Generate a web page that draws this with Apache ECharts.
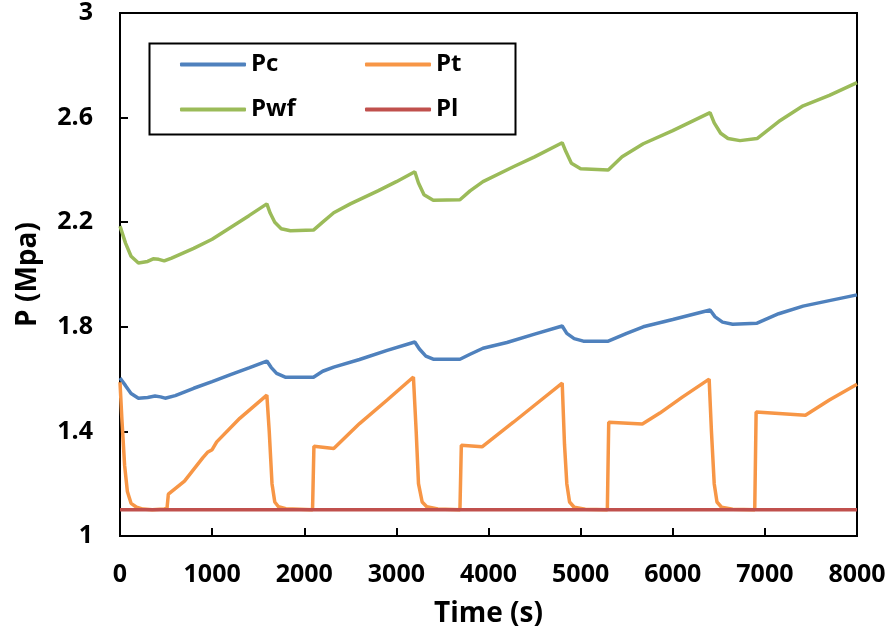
<!DOCTYPE html>
<html lang="en">
  <head>
    <meta charset="UTF-8" />
    <title>P vs Time</title>
    <script src="https://cdn.jsdelivr.net/npm/echarts@6.0.0/dist/echarts.min.js"></script>
    <style>
      html,
      body {
        margin: 0;
        padding: 0;
        background: #fff;
      }

      #main {
        width: 893px;
        height: 639px;
      }
    </style>
  </head>

  <body>
    <div id="main"></div>
    <script>
      // values (time in s, pressure in Mpa)
      var pcTime = [0, 60, 120, 200, 300, 380, 440, 490, 600, 800, 1000, 1200, 1400, 1594, 1640, 1700, 1800, 2100, 2200, 2320, 2600, 2900, 3200, 3250, 3320, 3400, 3690, 3800, 3940, 4200, 4500, 4800, 4850, 4930, 5030, 5300, 5500, 5680, 6000, 6405, 6460, 6540, 6650, 6915, 7150, 7415, 7700, 8000];
      var pcVal = [1.604, 1.575, 1.545, 1.527, 1.53, 1.535, 1.532, 1.527, 1.537, 1.565, 1.59, 1.617, 1.643, 1.669, 1.645, 1.622, 1.607, 1.607, 1.63, 1.646, 1.675, 1.71, 1.742, 1.715, 1.688, 1.676, 1.676, 1.695, 1.718, 1.74, 1.772, 1.803, 1.775, 1.755, 1.745, 1.745, 1.775, 1.8, 1.828, 1.864, 1.838, 1.818, 1.81, 1.814, 1.85, 1.879, 1.9, 1.922];

      var ptTime = [0, 20, 50, 80, 120, 180, 250, 350, 480, 510, 525, 700, 900, 950, 1000, 1050, 1300, 1594, 1620, 1650, 1680, 1720, 1800, 2090, 2105, 2320, 2600, 2900, 3185, 3215, 3240, 3280, 3330, 3450, 3690, 3705, 3930, 4270, 4500, 4800, 4825, 4850, 4880, 4930, 5050, 5290, 5305, 5670, 5860, 6100, 6395, 6420, 6450, 6480, 6530, 6650, 6890, 6905, 7440, 7700, 8000];
      var ptVal = [1.588, 1.45, 1.27, 1.17, 1.125, 1.11, 1.103, 1.1, 1.103, 1.105, 1.16, 1.21, 1.3, 1.32, 1.33, 1.36, 1.45, 1.539, 1.4, 1.2, 1.13, 1.112, 1.104, 1.1, 1.343, 1.335, 1.43, 1.52, 1.608, 1.4, 1.2, 1.13, 1.112, 1.103, 1.1, 1.347, 1.341, 1.435, 1.5, 1.585, 1.35, 1.2, 1.13, 1.11, 1.102, 1.1, 1.435, 1.428, 1.47, 1.53, 1.6, 1.4, 1.2, 1.13, 1.11, 1.102, 1.1, 1.474, 1.462, 1.52, 1.58];

      var pwfTime = [0, 60, 120, 200, 300, 360, 420, 480, 560, 800, 1000, 1200, 1400, 1594, 1630, 1680, 1750, 1850, 2100, 2200, 2320, 2500, 2800, 3000, 3200, 3240, 3300, 3400, 3690, 3800, 3940, 4270, 4500, 4800, 4840, 4900, 5000, 5300, 5450, 5680, 6000, 6405, 6450, 6520, 6600, 6730, 6915, 7150, 7415, 7700, 8000];
      var pwfVal = [2.185, 2.12, 2.07, 2.044, 2.05, 2.06, 2.058, 2.052, 2.063, 2.1, 2.135, 2.18, 2.225, 2.27, 2.235, 2.2, 2.175, 2.167, 2.17, 2.2, 2.236, 2.27, 2.32, 2.355, 2.393, 2.35, 2.305, 2.284, 2.286, 2.32, 2.355, 2.412, 2.45, 2.504, 2.47, 2.425, 2.404, 2.4, 2.45, 2.5, 2.55, 2.619, 2.58, 2.54, 2.52, 2.512, 2.52, 2.585, 2.645, 2.685, 2.734];

      var plTime = [0, 8000];
      var plVal = [1.1, 1.1];

      var FONT = "Open Sans";

      function pairs(t, v) {
        return t.map((x, i) => [x, v[i]]);
      }

      function line(name, color, t, v) {
        return {
          name: name,
          type: "line",
          symbol: "none",
          data: pairs(t, v),
          lineStyle: { color: color, width: 3.5 },
          itemStyle: { color: color }
        };
      }

      var legendBase = {
        orient: "vertical",
        padding: 0,
        icon: "roundRect",
        itemWidth: 66,
        itemHeight: 4,
        itemGap: 12,
        top: 48,
        textStyle: {
          fontFamily: FONT,
          fontWeight: "bold",
          fontSize: 24,
          lineHeight: 33,
          color: "#000"
        }
      };

      var chart = echarts.init(document.getElementById("main"));
      chart.setOption({
        animation: false,
        textStyle: { fontFamily: FONT },
        grid: {
          left: 120,
          top: 13,
          right: 36,
          bottom: 103,
          show: true,
          borderColor: "#000",
          borderWidth: 2,
          outerBoundsMode: "none"
        },
        legend: [
          Object.assign({}, legendBase, { left: 180, data: ["Pc", "Pwf"] }),
          Object.assign({}, legendBase, { left: 365, data: ["Pt", "Pl"] })
        ],
        graphic: [
          {
            type: "rect",
            left: 147,
            top: 41,
            shape: { width: 366, height: 91 },
            style: { fill: "none", stroke: "#000", lineWidth: 2 },
            z: 10
          }
        ],
        xAxis: {
          type: "value",
          min: 0,
          max: 8000,
          interval: 1000,
          name: "Time (s)",
          nameLocation: "middle",
          nameGap: 64,
          nameTextStyle: {
            fontFamily: FONT,
            fontWeight: "bold",
            fontSize: 28,
            color: "#000"
          },
          axisLine: { lineStyle: { color: "#000", width: 2 } },
          axisTick: { inside: true, length: 8, lineStyle: { color: "#000", width: 2 } },
          axisLabel: {
            margin: 26,
            fontFamily: FONT,
            fontWeight: "bold",
            fontSize: 25,
            color: "#000",
            formatter: v => String(v)
          },
          splitLine: { show: false }
        },
        yAxis: {
          type: "value",
          min: 1,
          max: 3,
          interval: 0.4,
          name: "P (Mpa)",
          nameLocation: "middle",
          nameGap: 78,
          nameTextStyle: {
            fontFamily: FONT,
            fontWeight: "bold",
            fontSize: 28,
            color: "#000"
          },
          axisLine: { show: true, lineStyle: { color: "#000", width: 2 } },
          axisTick: { show: true, inside: true, length: 8, lineStyle: { color: "#000", width: 2 } },
          axisLabel: {
            margin: 27,
            fontFamily: FONT,
            fontWeight: "bold",
            fontSize: 25,
            color: "#000",
            formatter: v => String(+v.toFixed(1))
          },
          splitLine: { show: false }
        },
        series: [
          line("Pc", "#4F81BD", pcTime, pcVal),
          line("Pt", "#F79646", ptTime, ptVal),
          line("Pwf", "#9BBB59", pwfTime, pwfVal),
          line("Pl", "#C0504D", plTime, plVal)
        ]
      });
    </script>
  </body>
</html>
